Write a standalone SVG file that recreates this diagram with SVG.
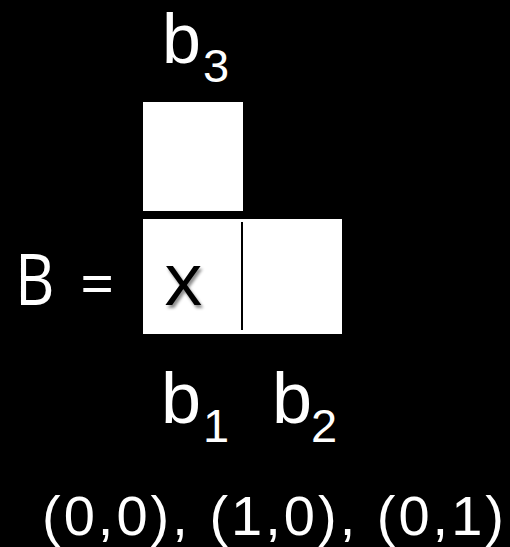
<svg xmlns="http://www.w3.org/2000/svg" width="510" height="547" viewBox="0 0 510 547">
<defs>
<style>
.t{font-family:"Liberation Sans",Arial,sans-serif;fill:#fff}
.c{font-family:"Open Sans","Liberation Sans",sans-serif}
.cell{fill:#fff}
</style>
<filter id="sh" x="-20%" y="-20%" width="150%" height="150%">
<feDropShadow dx="2" dy="3" stdDeviation="1.5" flood-color="#000" flood-opacity="0.45"/>
</filter>
</defs>
<rect width="510" height="547" fill="#000"/>
<g id="b3-label">
<text class="t" x="162" y="63" font-size="70">b</text>
<text class="t" x="203" y="82" font-size="47">3</text>
</g>
<g id="cell-b3">
<rect class="cell" x="143" y="102" width="100" height="109"/>
</g>
<g id="B-label">
<text class="c" x="15" y="305" font-size="72" fill="#fff" transform="translate(15 0) scale(0.85 1) translate(-15 0)">B</text>
<text class="c" x="80" y="305" font-size="60" fill="#fff">=</text>
</g>
<g id="cell-b1-b2">
<rect class="cell" x="143" y="219" width="199" height="115"/>
<line x1="242" y1="222" x2="242" y2="330" stroke="#000" stroke-width="2"/>
<text class="c" x="164" y="305" font-size="74" font-weight="500" fill="#000" filter="url(#sh)">x</text>
</g>
<g id="b1-b2-labels">
<text class="t" x="161" y="423" font-size="72">b</text>
<text class="t" x="203" y="442" font-size="47">1</text>
<text class="t" x="272" y="423" font-size="72">b</text>
<text class="t" x="311" y="442" font-size="47">2</text>
</g>
<g id="coords">
<text class="t" x="42" y="535" font-size="56" textLength="462" lengthAdjust="spacing">(0,0), (1,0), (0,1)</text>
</g>
<g id="connectors"/>
</svg>
